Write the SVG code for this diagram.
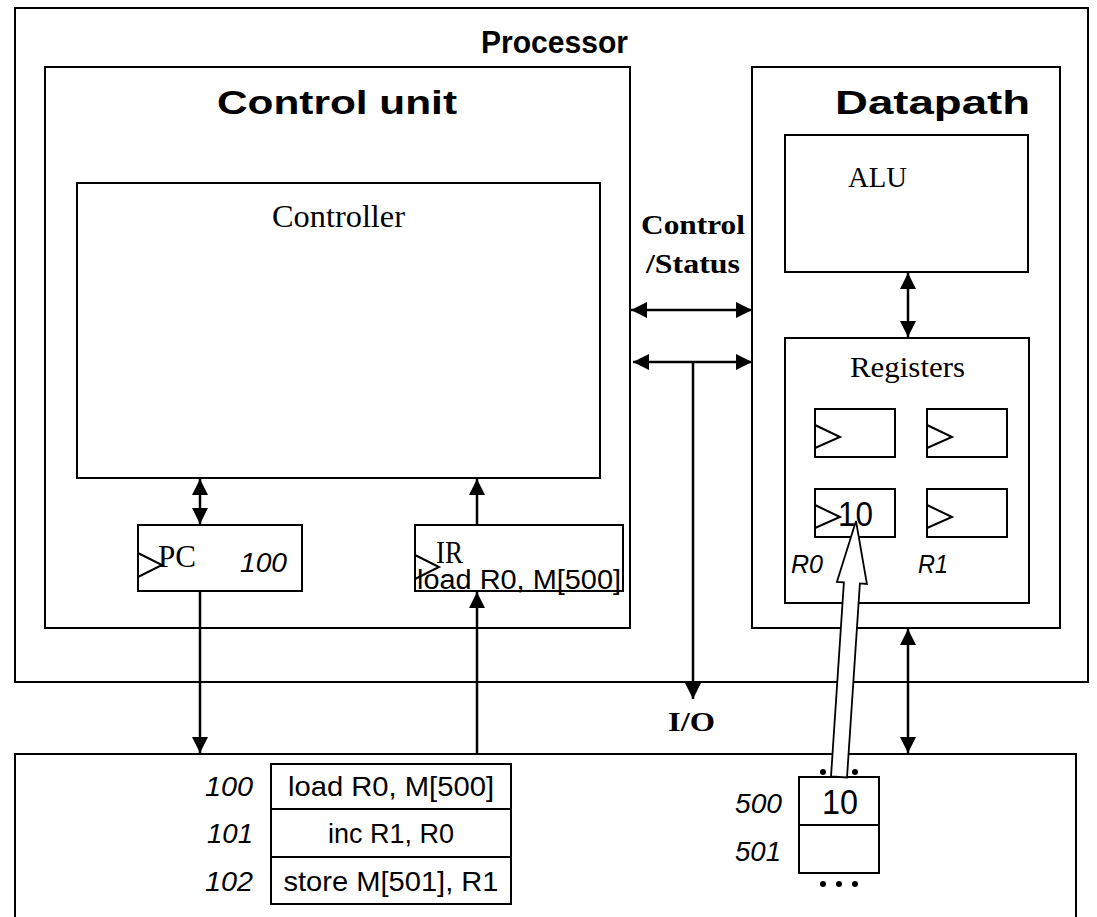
<svg xmlns="http://www.w3.org/2000/svg" width="1097" height="917" viewBox="0 0 1097 917">
<style>
.box{fill:none;stroke:#000;stroke-width:2}
.clk{fill:none;stroke:#000;stroke-width:2}
.ln{fill:none;stroke:#000;stroke-width:2.5}
.hb{font-family:"Liberation Sans",Arial,sans-serif;font-weight:bold;fill:#000}
.s{font-family:"Liberation Sans",Arial,sans-serif;fill:#000}
.si{font-family:"Liberation Sans",Arial,sans-serif;font-style:italic;fill:#000}
.sf{font-family:"Liberation Serif","Times New Roman",serif;fill:#000}
.sfb{font-family:"Liberation Serif","Times New Roman",serif;font-weight:bold;fill:#000}
</style>
<defs>
<marker id="ah" viewBox="0 0 16 16" refX="16" refY="8" markerWidth="16" markerHeight="16" markerUnits="userSpaceOnUse" orient="auto-start-reverse">
<path d="M0,0 L16,8 L0,16 Z" fill="#000"/>
</marker>
</defs>
<rect width="1097" height="917" fill="#fff"/>

<g id="processor">
<rect class="box" x="15" y="8" width="1073" height="674"/>
<text class="hb" x="481" y="53" font-size="31" textLength="147" lengthAdjust="spacingAndGlyphs">Processor</text>
</g>

<g id="control-unit">
<rect class="box" x="45" y="67" width="585" height="561"/>
<text class="hb" x="217" y="114" font-size="34" textLength="240" lengthAdjust="spacingAndGlyphs">Control unit</text>
</g>

<g id="controller">
<rect class="box" x="77" y="183" width="523" height="295"/>
<text class="sf" x="272" y="227" font-size="31" textLength="133" lengthAdjust="spacingAndGlyphs">Controller</text>
</g>

<g id="pc">
<rect class="box" x="138" y="525" width="164" height="66"/>
<polyline class="clk" points="138,553 162,565 138,577"/>
<text class="sf" x="158" y="567" font-size="32" textLength="38" lengthAdjust="spacingAndGlyphs">PC</text>
<text class="si" x="240" y="572" font-size="27" textLength="47" lengthAdjust="spacingAndGlyphs">100</text>
</g>

<g id="ir">
<rect class="box" x="415" y="525" width="208" height="66"/>
<polyline class="clk" points="415,555 439,567 415,579"/>
<text class="sf" x="436" y="563" font-size="31" textLength="27" lengthAdjust="spacingAndGlyphs">IR</text>
<text class="s" x="417" y="589" font-size="27" textLength="204" lengthAdjust="spacingAndGlyphs">load R0, M[500]</text>
</g>

<g id="datapath">
<rect class="box" x="752" y="67" width="308" height="561"/>
<text class="hb" x="835" y="114" font-size="34" textLength="195" lengthAdjust="spacingAndGlyphs">Datapath</text>
</g>

<g id="alu">
<rect class="box" x="785" y="135" width="243" height="137"/>
<text class="sf" x="848" y="187" font-size="30" textLength="59" lengthAdjust="spacingAndGlyphs">ALU</text>
</g>

<g id="registers">
<rect class="box" x="785" y="338" width="244" height="265"/>
<text class="sf" x="850" y="377" font-size="30" textLength="115" lengthAdjust="spacingAndGlyphs">Registers</text>
<rect class="box" x="815" y="409" width="80" height="48"/>
<polyline class="clk" points="815,425 840,437 815,448"/>
<rect class="box" x="927" y="409" width="80" height="48"/>
<polyline class="clk" points="927,425 952,437 927,448"/>
<rect class="box" x="815" y="489" width="80" height="48"/>
<polyline class="clk" points="815,505 840,517 815,528"/>
<rect class="box" x="927" y="489" width="80" height="48"/>
<polyline class="clk" points="927,505 952,517 927,528"/>
<text class="s" x="838" y="526" font-size="35" textLength="35" lengthAdjust="spacingAndGlyphs">10</text>
<text class="si" x="791" y="573" font-size="26" textLength="32" lengthAdjust="spacingAndGlyphs">R0</text>
<text class="si" x="918" y="573" font-size="26" textLength="30" lengthAdjust="spacingAndGlyphs">R1</text>
</g>

<g id="memory">
<rect class="box" x="15" y="754" width="1061" height="190"/>
<rect class="box" x="271" y="764" width="240" height="45"/>
<rect class="box" x="271" y="809" width="240" height="48"/>
<rect class="box" x="271" y="857" width="240" height="47"/>
<text class="s" x="391" y="796" font-size="28" text-anchor="middle" textLength="206" lengthAdjust="spacingAndGlyphs">load R0, M[500]</text>
<text class="s" x="391" y="843" font-size="28" text-anchor="middle" textLength="126" lengthAdjust="spacingAndGlyphs">inc R1, R0</text>
<text class="s" x="391" y="891" font-size="28" text-anchor="middle" textLength="215" lengthAdjust="spacingAndGlyphs">store M[501], R1</text>
<text class="si" x="253" y="796" font-size="27" text-anchor="end" textLength="48" lengthAdjust="spacingAndGlyphs">100</text>
<text class="si" x="253" y="843" font-size="27" text-anchor="end" textLength="46" lengthAdjust="spacingAndGlyphs">101</text>
<text class="si" x="253" y="891" font-size="27" text-anchor="end" textLength="48" lengthAdjust="spacingAndGlyphs">102</text>
<rect class="box" x="799" y="777" width="80" height="48"/>
<rect class="box" x="799" y="825" width="80" height="48"/>
<text class="s" x="822" y="814" font-size="35" textLength="36" lengthAdjust="spacingAndGlyphs">10</text>
<text class="si" x="782" y="813" font-size="27" text-anchor="end" textLength="47" lengthAdjust="spacingAndGlyphs">500</text>
<text class="si" x="781" y="861" font-size="27" text-anchor="end" textLength="46" lengthAdjust="spacingAndGlyphs">501</text>
<circle cx="823" cy="772" r="3"/>
<circle cx="855" cy="772" r="3"/>
<circle cx="823" cy="884" r="3"/>
<circle cx="839" cy="884" r="3"/>
<circle cx="855" cy="884" r="3"/>
</g>

<g id="labels">
<text class="sfb" x="641" y="234" font-size="28" textLength="104" lengthAdjust="spacingAndGlyphs">Control</text>
<text class="sfb" x="646" y="273" font-size="28" textLength="94" lengthAdjust="spacingAndGlyphs">/Status</text>
<text class="sfb" x="668" y="731" font-size="28" textLength="47" lengthAdjust="spacingAndGlyphs">I/O</text>
</g>

<g id="connectors">
<line class="ln" x1="631" y1="310" x2="752" y2="310" marker-start="url(#ah)" marker-end="url(#ah)"/>
<line class="ln" x1="633" y1="362" x2="752" y2="362" marker-start="url(#ah)" marker-end="url(#ah)"/>
<line class="ln" x1="693" y1="362" x2="693" y2="699" marker-end="url(#ah)"/>
<line class="ln" x1="908" y1="273" x2="908" y2="337" marker-start="url(#ah)" marker-end="url(#ah)"/>
<line class="ln" x1="200" y1="479" x2="200" y2="524" marker-start="url(#ah)" marker-end="url(#ah)"/>
<line class="ln" x1="477" y1="524" x2="477" y2="479" marker-end="url(#ah)"/>
<line class="ln" x1="200" y1="592" x2="200" y2="753" marker-end="url(#ah)"/>
<line class="ln" x1="477" y1="753" x2="477" y2="592" marker-end="url(#ah)"/>
<line class="ln" x1="908" y1="629" x2="908" y2="753" marker-start="url(#ah)" marker-end="url(#ah)"/>
<polygon points="831,776.5 843.9,582.4 836.9,581.9 856,521 866.9,583.9 859.9,583.4 847,777.5" fill="#fff" stroke="#000" stroke-width="1.8" stroke-linejoin="miter"/>
</g>
</svg>
